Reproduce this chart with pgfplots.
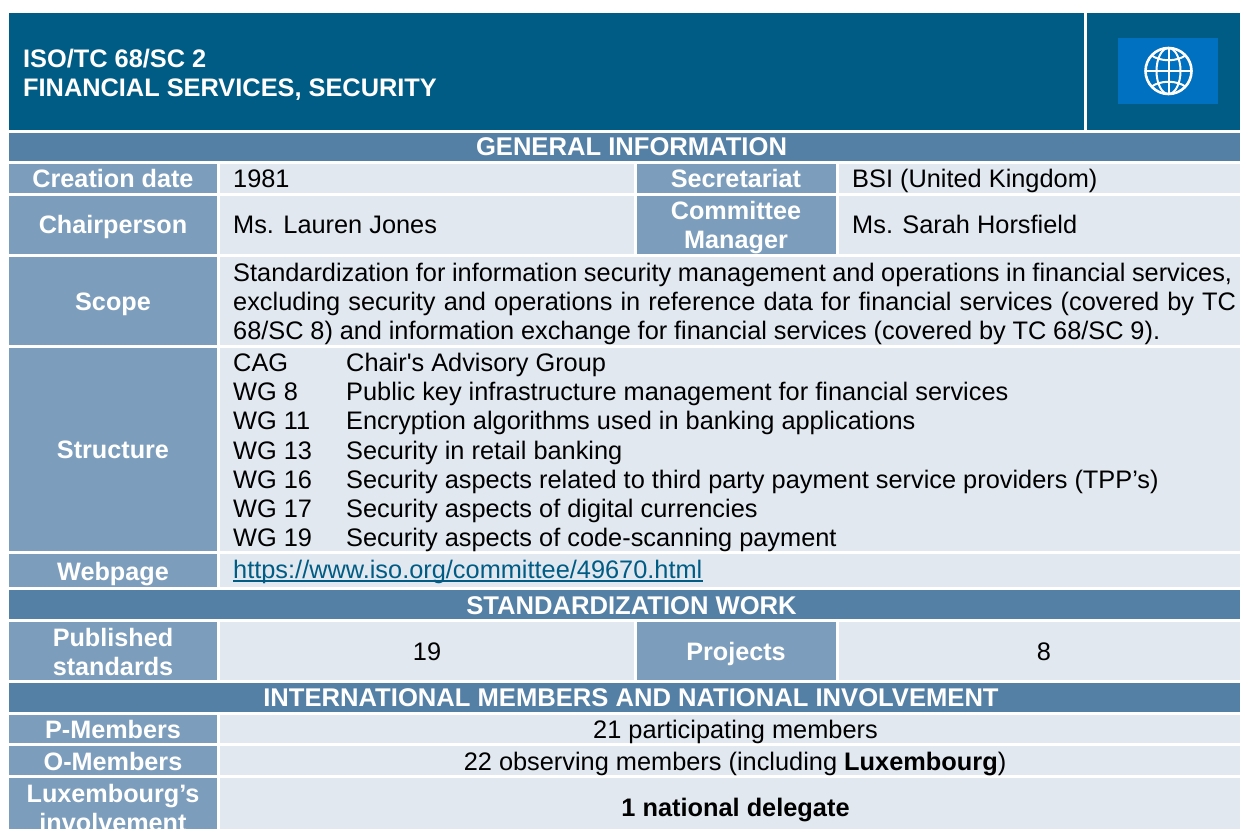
\documentclass[border=0pt]{standalone}
\usepackage{pgfplots}
\pgfplotsset{compat=1.18}
\usepackage{fontspec}
\setmainfont{Liberation Sans}
\definecolor{hdr}{RGB}{0,92,132}
\definecolor{band}{RGB}{85,128,166}
\definecolor{lab}{RGB}{124,158,188}
\definecolor{cel}{RGB}{225,232,240}
\definecolor{ico}{RGB}{0,112,192}
\definecolor{lnk}{RGB}{0,92,132}
\newcommand{\cell}[5]{\addplot[draw=none,fill=#5,forget plot] coordinates {(#1,#2)(#3,#2)(#3,#4)(#1,#4)} --cycle;}
\newcommand{\fs}{\fontsize{25.2}{29}\selectfont}
\newcommand{\fn}{\fontsize{25.35}{29}\selectfont}
\newcommand{\fb}{\fontsize{25.6}{29}\selectfont}
\newcommand{\tb}[3]{\node[anchor=base,inner sep=0pt,text=white] at (axis cs:#1,#2) {\fs\bfseries #3};}
\newcommand{\tw}[3]{\node[anchor=base,inner sep=0pt,text=white] at (axis cs:#1,#2) {\fb\bfseries #3};}
\newcommand{\tn}[3]{\node[anchor=base west,inner sep=0pt,text=black] at (axis cs:#1,#2) {\fn #3};}
\newcommand{\tc}[3]{\node[anchor=base,inner sep=0pt,text=black] at (axis cs:#1,#2) {\fn #3};}
\newcommand{\tj}[4]{\node[anchor=base west,inner sep=0pt,text=black] at (axis cs:#1,#2) {\fn\makebox[#3pt][s]{#4}};}
\begin{document}
\begin{tikzpicture}
\begin{axis}[width=1240pt,height=829pt,scale only axis,xmin=0,xmax=1240,ymin=0,ymax=829,y dir=reverse,hide axis,clip=true,axis on top=false]
\cell{0}{0}{1240}{829}{white}
\cell{9}{13}{1084}{130}{hdr}
\cell{1087}{13}{1240}{130}{hdr}
\cell{1118}{38}{1218}{104}{ico}
\cell{9}{133}{1240}{161}{band}
\cell{9}{590}{1240}{619}{band}
\cell{9}{683}{1240}{712}{band}
% first column labels
\cell{9}{164}{217}{193}{lab}
\cell{9}{196}{217}{254}{lab}
\cell{9}{257}{217}{345}{lab}
\cell{9}{348}{217}{551}{lab}
\cell{9}{554}{217}{587}{lab}
\cell{9}{622}{217}{680}{lab}
\cell{9}{715}{217}{743}{lab}
\cell{9}{746}{217}{775}{lab}
\cell{9}{778}{217}{829}{lab}
% third column labels
\cell{637}{164}{836}{193}{lab}
\cell{637}{196}{836}{254}{lab}
\cell{637}{622}{836}{680}{lab}
% content
\cell{220}{164}{634}{193}{cel}
\cell{839}{164}{1240}{193}{cel}
\cell{220}{196}{634}{254}{cel}
\cell{839}{196}{1240}{254}{cel}
\cell{220}{257}{1240}{345}{cel}
\cell{220}{348}{1240}{551}{cel}
\cell{220}{554}{1240}{587}{cel}
\cell{220}{622}{634}{680}{cel}
\cell{839}{622}{1240}{680}{cel}
\cell{220}{715}{1240}{743}{cel}
\cell{220}{746}{1240}{775}{cel}
\cell{220}{778}{1240}{829}{cel}
% globe
\begin{scope}[draw=white,line width=2.6pt]
\draw (axis cs:1168.5,71) circle[radius=23];
\draw[line width=2pt] (axis cs:1168.5,48) -- (axis cs:1168.5,94);
\draw[line width=2pt] (axis cs:1145.5,71) -- (axis cs:1191.5,71);
\draw[line width=2pt] (axis cs:1168.5,71) ellipse[x radius=12,y radius=23];
\draw[line width=2pt] (axis cs:1151,55) .. controls (axis cs:1160,62) and (axis cs:1177,62) .. (axis cs:1186,55);
\draw[line width=2pt] (axis cs:1151,87) .. controls (axis cs:1160,80) and (axis cs:1177,80) .. (axis cs:1186,87);
\end{scope}
% title
\node[anchor=base west,inner sep=0pt,text=white] at (axis cs:23,68) {\fontsize{25.35}{29}\selectfont\bfseries ISO/TC 68/SC 2};
\node[anchor=base west,inner sep=0pt,text=white] at (axis cs:23,97) {\fontsize{25.35}{29}\selectfont\bfseries FINANCIAL SERVICES, SECURITY};
% bands
\tw{631.5}{156}{GENERAL INFORMATION}
\tw{631.5}{614}{STANDARDIZATION WORK}
\tw{631}{706}{INTERNATIONAL MEMBERS AND NATIONAL INVOLVEMENT}
% labels
\tb{113}{188}{Creation date}
\tb{113}{234}{Chairperson}
\tb{113}{310}{Scope}
\tb{113}{458}{Structure}
\tb{113}{580}{Webpage}
\tb{113}{646}{Published}
\tb{113}{675}{standards}
\tb{113}{738}{P-Members}
\tb{113}{770}{O-Members}
\tb{113}{802}{Luxembourg’s}
\tb{113}{831}{involvement}
\tb{736}{188}{Secretariat}
\tb{736}{220}{Committee}
\tb{736}{249}{Manager}
\tb{736}{660}{Projects}
% values
\tn{233}{188}{1981}
\tn{852}{188}{BSI (United Kingdom)}
\tn{233}{234}{Ms. Lauren Jones}
\tn{852}{234}{Ms. Sarah Horsfield}
\tj{233}{281}{999}{Standardization for information security management and operations in financial services,}
\tj{233}{310}{1003}{excluding security and operations in reference data for financial services (covered by TC}
\tj{233}{339}{927}{68/SC 8) and information exchange for financial services (covered by TC 68/SC 9).}
\tn{233}{371}{CAG}\tn{346}{371}{Chair\XeTeXglyph\XeTeXcharglyph"27 s Advisory Group}
\tn{233}{400}{WG 8}\tn{346}{400}{Public key infrastructure management for financial services}
\tn{233}{429.5}{WG 11}\tn{346}{429.5}{Encryption algorithms used in banking applications}
\tn{233}{459}{WG 13}\tn{346}{459}{Security in retail banking}
\tn{233}{488}{WG 16}\tn{346}{488}{Security aspects related to third party payment service providers (TPP’s)}
\tn{233}{517}{WG 17}\tn{346}{517}{Security aspects of digital currencies}
\tn{233}{546}{WG 19}\tn{346}{546}{Security aspects of code-scanning payment}
\node[anchor=base west,inner sep=0pt,text=lnk] at (axis cs:233,578) {\fn https://www.iso.org/committee/49670.html};
\draw[lnk,line width=1.6pt] (axis cs:233,581) -- (axis cs:703,581);
\tc{427}{660}{19}
\tc{1044}{660}{8}
\tc{735.5}{738}{21 participating members}
\tc{735}{770}{22 observing members (including \textbf{Luxembourg})}
\tc{735.5}{816}{\textbf{1 national delegate}}
\end{axis}
\end{tikzpicture}
\end{document}
